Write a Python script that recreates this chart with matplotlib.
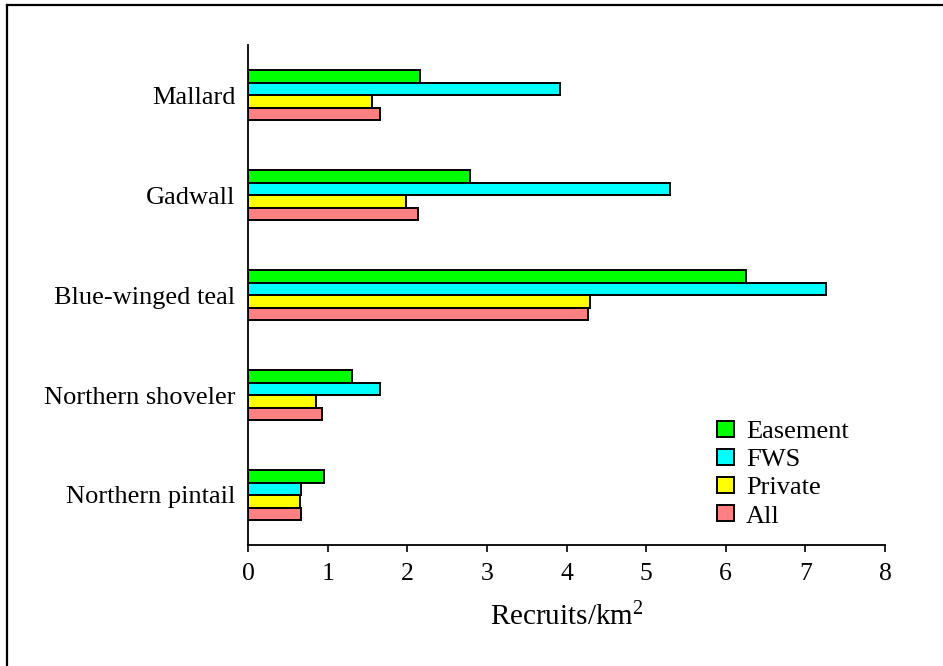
import matplotlib
matplotlib.use("Agg")
import matplotlib.pyplot as plt
from matplotlib.lines import Line2D
import numpy as np

species = ["Mallard", "Gadwall", "Blue-winged teal", "Northern shoveler", "Northern pintail"]
series_names = ["Easement", "FWS", "Private", "All"]
easement = [2.16, 2.79, 6.26, 1.31, 0.95]
fws = [3.92, 5.30, 7.26, 1.66, 0.67]
private = [1.56, 1.98, 4.29, 0.85, 0.65]
all_ = [1.66, 2.14, 4.27, 0.93, 0.67]
colors = ["#00FF00", "#00FFFF", "#FFFF00", "#FF8080"]
xticks = [0, 1, 2, 3, 4, 5, 6, 7, 8]

plt.rcParams['font.family'] = ['Liberation Serif', 'DejaVu Serif']
plt.rcParams['mathtext.fontset'] = 'custom'
plt.rcParams['mathtext.rm'] = 'Liberation Serif'
plt.rcParams['mathtext.it'] = 'Liberation Serif:italic'

fig = plt.figure(figsize=(9.43, 6.66), dpi=100)
ax = fig.add_axes([248/943, 1-545/666, (885-248)/943, 500/666])

n = len(species)
pos = np.arange(n)[::-1]  # Mallard at top
h = 0.125
offsets = [1.5*h, 0.5*h, -0.5*h, -1.5*h]
for vals, name, c, off in zip([easement, fws, private, all_], series_names, colors, offsets):
    ax.barh(pos + off, vals, height=h, color=c, edgecolor="black", linewidth=1.4, label=name)

ax.set_xlim(0, 8)
ax.set_ylim(-0.5, 4.5)
ax.set_yticks(pos)
ax.set_yticklabels(species, fontsize=19)
ax.set_xticks(xticks)
ax.set_xticklabels([str(t) for t in xticks], fontsize=18.5)
ax.tick_params(axis='y', length=0, pad=9)
ax.tick_params(axis='x', length=5, width=1.2, direction='out', pad=8)
for s in ["top", "right"]:
    ax.spines[s].set_visible(False)
for s in ["left", "bottom"]:
    ax.spines[s].set_linewidth(1.3)
ax.set_xlabel("Recruits/km$^{2}$", fontsize=21, labelpad=13)

ax.legend(loc="upper left", bbox_to_anchor=(717/943, 1-421/666), bbox_transform=fig.transFigure,
          frameon=False, fontsize=19, handlelength=0.65, handleheight=0.55,
          handletextpad=0.45, labelspacing=0.22, borderpad=0, borderaxespad=0)

# image frame lines
fig.add_artist(Line2D([7/943, 1], [1-5/666, 1-5/666], transform=fig.transFigure, color="black", lw=1.6))
fig.add_artist(Line2D([7/943, 7/943], [0, 1-5/666], transform=fig.transFigure, color="black", lw=1.6))

fig.savefig("out.png", dpi=100)
